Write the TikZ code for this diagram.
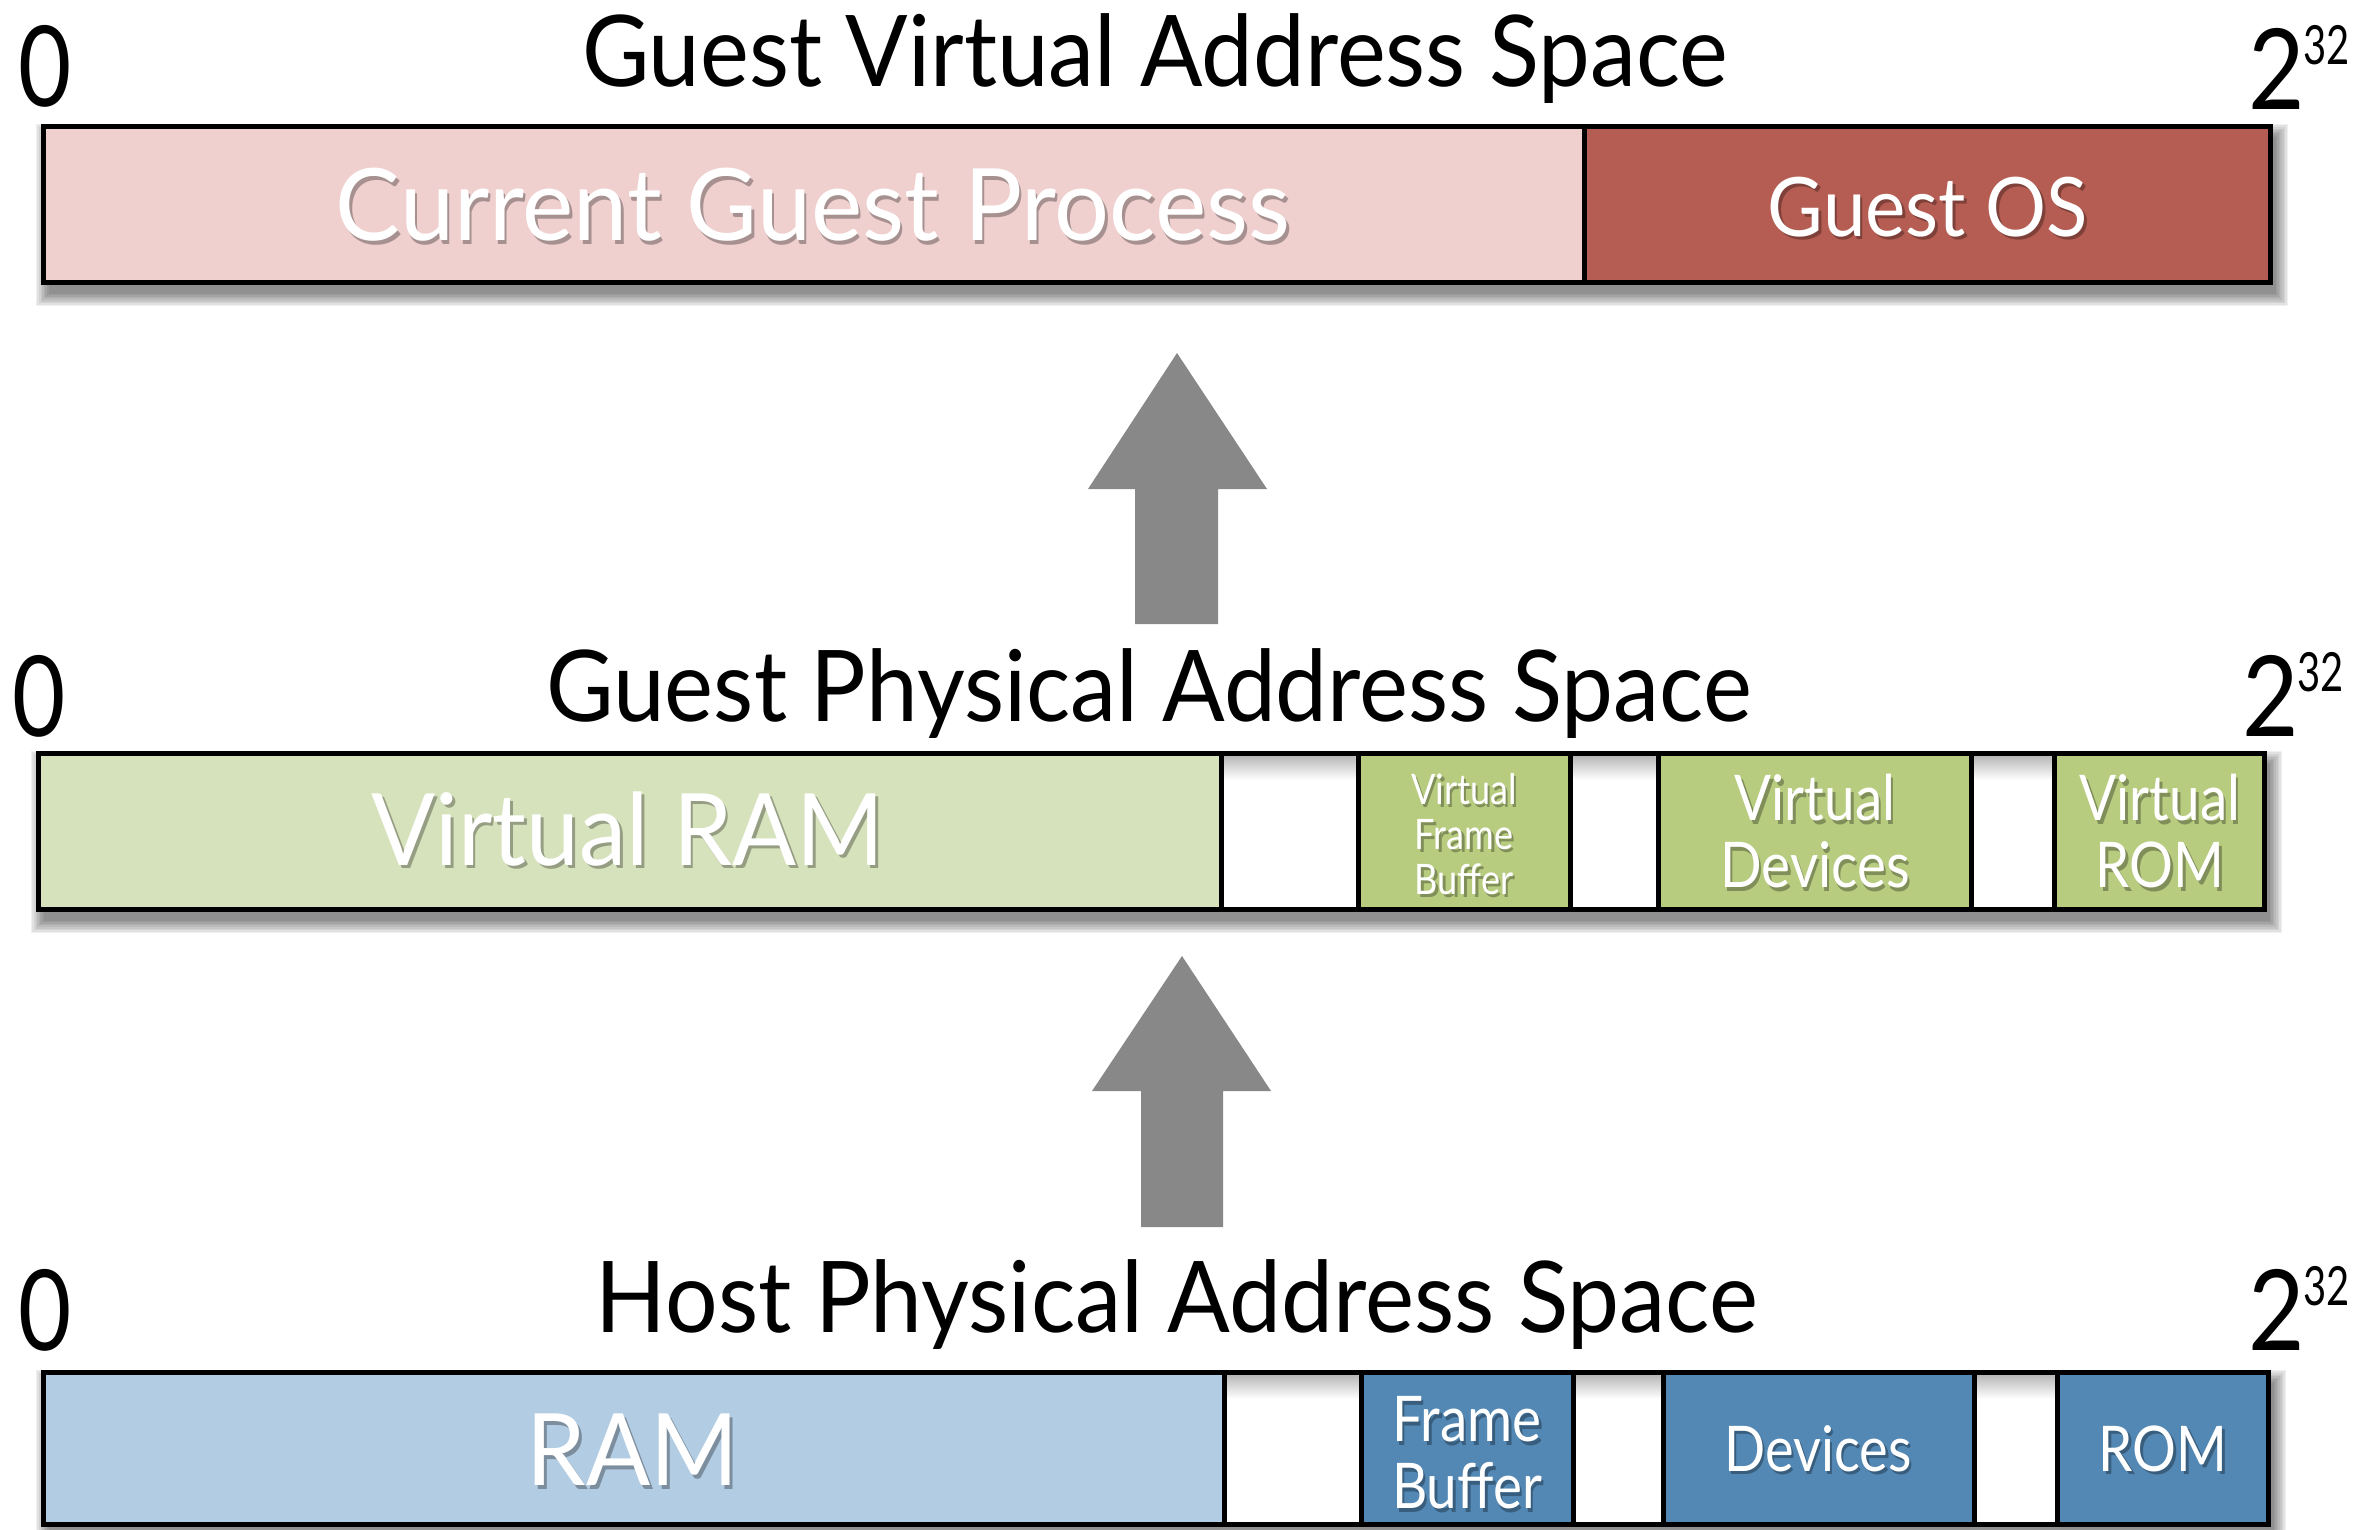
\documentclass[tikz,border=0pt]{standalone}
\usepackage{fontspec}
\setmainfont{Lato}
\usetikzlibrary{shadows}
\definecolor{pinkL}{HTML}{EFD0CF}
\definecolor{redD}{HTML}{B55D52}
\definecolor{greenL}{HTML}{D6E2BB}
\definecolor{greenD}{HTML}{B8CC80}
\definecolor{blueL}{HTML}{B2CCE3}
\definecolor{blueD}{HTML}{5388B4}
\definecolor{arrowgray}{HTML}{888888}
\tikzset{
  seg/.style={draw=black, line width=5pt, inner sep=0pt, outer sep=0pt, rectangle},
  frame/.style={draw=black, line width=5pt, fill=white},
  title/.style={anchor=base, inner sep=0pt, font=\fontsize{99}{105}\selectfont},
  zero/.style={anchor=base west, inner sep=0pt, font=\fontsize{112}{112}\selectfont},
  lab/.style={inner sep=0pt, align=center, text=white},
  labsh/.style={inner sep=0pt, align=center, text=black, opacity=.3},
  bigtxt/.style={font=\fontsize{100}{104}\selectfont},
  midtxt/.style={font=\fontsize{82}{90}\selectfont},
  smtxt/.style={font=\fontsize{63}{67}\selectfont},
  tinytxt/.style={font=\fontsize{42}{45}\selectfont},
  blockarrow/.style={fill=arrowgray}
}
\newcommand\barshadow[4]{%
  \foreach \k in {0,...,8}{%
    \fill[black, opacity=.06] ({#1+5-\k*1.6},{#2+10-\k*1.6}) rectangle ({#3+5+\k*1.6},{#4+11+\k*1.6});}}
\newcommand\segnode[6]{%
  \node[seg, fill=#6, minimum width={(#4-#2)*1pt}, minimum height={(#5-#3)*1pt}] (#1) at ({(#2+#4)/2},{(#3+#5)/2}) {};}
\newcommand\gapnode[5]{%
  \segnode{#1}{#2}{#3}{#4}{#5}{white}
  \shade[top color=black!28, bottom color=white] ({#2+2.5},{#3+2.5}) rectangle ({#4-2.5},{#3+26});
  \draw[line width=5pt] (#2,#3) -- (#2,#5) (#4,#3) -- (#4,#5);}
\newcommand\shtext[6]{%
  \node[labsh, #4] (#1s) at ({#2+2.5},{#3+3.5}) {\scalebox{#5}[1]{\begin{tabular}{@{}c@{}}#6\end{tabular}}};
  \node[lab, #4] (#1) at (#2,#3) {\scalebox{#5}[1]{\begin{tabular}{@{}c@{}}#6\end{tabular}}};}
\newcommand\twoexp{2\hspace{-2pt}\raisebox{45pt}{\fontsize{54}{54}\selectfont\scalebox{0.85}[1]{32}}}
\begin{document}
\begin{tikzpicture}[x=1pt,y=-1pt]
\useasboundingbox (0,0) rectangle (2379,1529);
\fill[white] (0,0) rectangle (2379,1529);

% ---------- Guest Virtual Address Space ----------
\node[title] (t1) at (1155,86) {\scalebox{0.933}[1]{Guest Virtual Address Space}};
\node[zero] (z1) at (18,106) {\scalebox{0.82}[1]{0}};
\node[zero] (e1) at (2248,109) {\scalebox{0.87}[1]{\twoexp}};
\barshadow{43.5}{126.5}{2270.5}{282.5}
\path[frame] (43.5,126.5) rectangle (2270.5,282.5);
\segnode{cgp}{43.5}{126.5}{1584}{282.5}{pinkL}
\segnode{gos}{1584}{126.5}{2270.5}{282.5}{redD}
\shtext{cgpt}{813}{220}{bigtxt}{0.97}{Current Guest Process}
\shtext{gost}{1928}{218}{midtxt}{0.93}{Guest OS}

% arrow 1
\fill[blockarrow] (1135,624) -- (1135,489) -- (1088,489) -- (1177,353) -- (1267,489) -- (1218,489) -- (1218,624) -- cycle;

% ---------- Guest Physical Address Space ----------
\node[title] (t2) at (1149,721) {\scalebox{0.936}[1]{Guest Physical Address Space}};
\node[zero] (z2) at (12,736) {\scalebox{0.82}[1]{0}};
\node[zero] (e2) at (2242,736) {\scalebox{0.87}[1]{\twoexp}};
\barshadow{38.5}{753.5}{2264.5}{909.5}
\path[frame] (38.5,753.5) rectangle (2264.5,909.5);
\segnode{vram}{38.5}{753.5}{1221}{909.5}{greenL}
\gapnode{g21}{1221}{753.5}{1358}{909.5}
\segnode{vfb}{1358}{753.5}{1570}{909.5}{greenD}
\gapnode{g22}{1570}{753.5}{1658}{909.5}
\segnode{vdev}{1658}{753.5}{1971}{909.5}{greenD}
\gapnode{g23}{1971}{753.5}{2054}{909.5}
\segnode{vrom}{2054}{753.5}{2264.5}{909.5}{greenD}
\draw[line width=5pt] (38.5,753.5) rectangle (2264.5,909.5);
\shtext{vramt}{628}{844}{bigtxt}{0.946}{Virtual RAM}
\shtext{vfbt}{1464}{840}{tinytxt}{0.86}{Virtual\\Frame\\Buffer}
\shtext{vdevt}{1815}{841}{smtxt}{0.87}{Virtual\\Devices}
\shtext{vromt}{2160}{841}{smtxt}{0.87}{Virtual\\ROM}

% arrow 2
\fill[blockarrow] (1141,1227) -- (1141,1091) -- (1092,1091) -- (1182,956) -- (1271,1091) -- (1223,1091) -- (1223,1227) -- cycle;

% ---------- Host Physical Address Space ----------
\node[title] (t3) at (1177,1332) {\scalebox{0.938}[1]{Host Physical Address Space}};
\node[zero] (z3) at (18,1350) {\scalebox{0.82}[1]{0}};
\node[zero] (e3) at (2248,1350) {\scalebox{0.87}[1]{\twoexp}};
\barshadow{43.5}{1372.5}{2268.5}{1524.5}
\path[frame] (43.5,1372.5) rectangle (2268.5,1524.5);
\segnode{ram}{43.5}{1372.5}{1224}{1524.5}{blueL}
\gapnode{g31}{1224}{1372.5}{1361}{1524.5}
\segnode{fb}{1361}{1372.5}{1573}{1524.5}{blueD}
\gapnode{g32}{1573}{1372.5}{1663}{1524.5}
\segnode{dev}{1663}{1372.5}{1974}{1524.5}{blueD}
\gapnode{g33}{1974}{1372.5}{2057}{1524.5}
\segnode{rom}{2057}{1372.5}{2268.5}{1524.5}{blueD}
\draw[line width=5pt] (43.5,1372.5) rectangle (2268.5,1524.5);
\shtext{ramt}{633}{1465}{bigtxt}{0.95}{RAM}
\shtext{fbt}{1467}{1462}{smtxt}{0.87}{Frame\\Buffer}
\shtext{devt}{1818}{1458}{smtxt}{0.86}{Devices}
\shtext{romt}{2163}{1458}{smtxt}{0.87}{ROM}
\end{tikzpicture}
\end{document}
